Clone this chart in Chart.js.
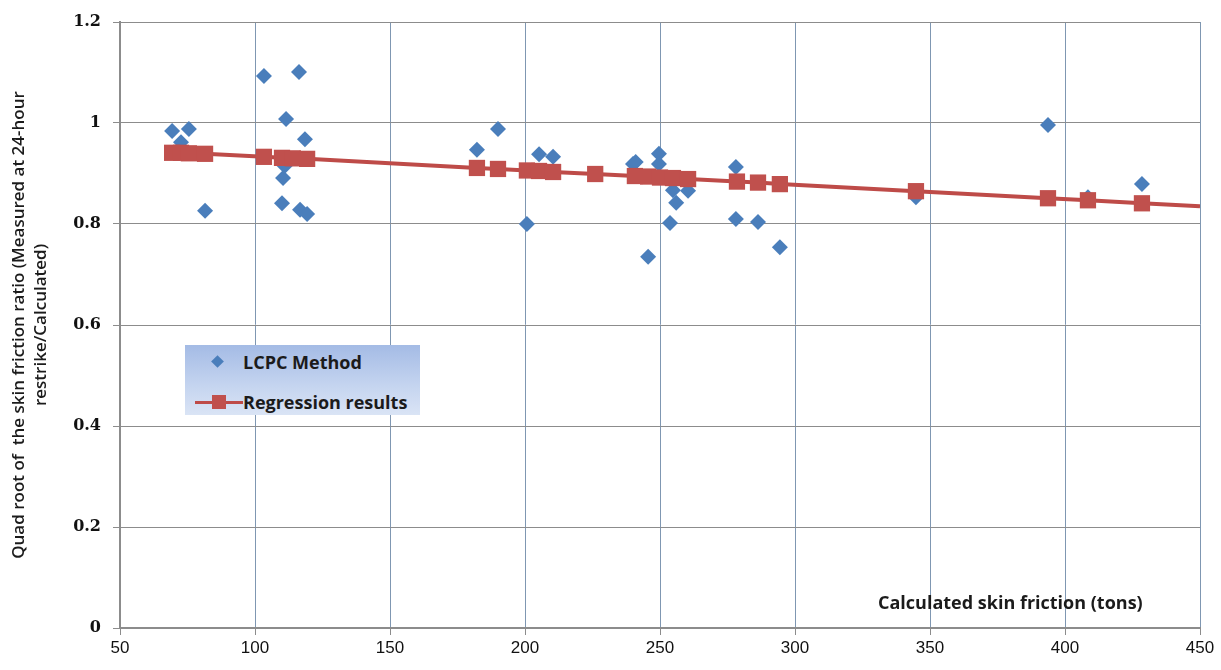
<!DOCTYPE html>
<html>
<head>
<meta charset="utf-8">
<script src="https://cdn.jsdelivr.net/npm/chart.js@4/dist/chart.umd.min.js"></script>
<style>
  html, body { margin: 0; padding: 0; background: #fff; }
  #wrap { position: relative; width: 1221px; height: 670px; }
  #legend {
    position: absolute; left: 185px; top: 345px; width: 235px; height: 70px;
    background: linear-gradient(to bottom, #a4bbe5 0%, #c3d3ef 55%, #dae4f5 100%);
    font-family: "Open Sans", sans-serif; font-weight: 700; font-size: 18px; color: #1b1b1b;
  }
  #legend .row { position: absolute; left: 0; height: 26px; line-height: 26px; }
  #legend .dia { position: absolute; left: 28px; top: 8px; width: 9px; height: 9px; background: #4a7ebb; transform: rotate(45deg); }
  #legend .ln { position: absolute; left: 10px; top: 12px; width: 48px; height: 3px; background: #be4b48; }
  #legend .sq { position: absolute; left: 27px; top: 6px; width: 14px; height: 14px; background: #c0504d; }
  #legend .txt { position: absolute; left: 58px; white-space: nowrap; }
  #xtitle {
    position: absolute; left: 878px; top: 590px;
    font-family: "Open Sans", sans-serif; font-weight: 700; font-size: 18px; color: #1b1b1b; white-space: nowrap;
  }
</style>
</head>
<body>
<div id="wrap">
  <canvas id="chart" width="1221" height="670"></canvas>
  <div id="legend">
    <div class="row" style="top:4px"><span class="dia"></span><span class="txt">LCPC Method</span></div>
    <div class="row" style="top:44px"><span class="ln"></span><span class="sq"></span><span class="txt">Regression results</span></div>
  </div>
  <div id="xtitle">Calculated skin friction (tons)</div>
</div>
<script>
// LCPC method points (calculated skin friction, quad root ratio)
const lcpcX = [69.3, 72.6, 75.5, 81.5, 103.3, 116.3, 111.5, 118.5, 110.4, 111, 110, 116.7, 119.3,
  182.2, 190, 200.7, 205.2, 210.4, 240, 241, 249.6, 249.6, 254.8, 260.4, 256, 253.7, 245.6,
  278.1, 278.1, 286.3, 294.4, 344.8, 393.7, 408.5, 428.5];
const lcpcY = [0.984, 0.962, 0.988, 0.826, 1.093, 1.101, 1.008, 0.968, 0.891, 0.915, 0.841, 0.828, 0.820,
  0.947, 0.988, 0.800, 0.938, 0.933, 0.919, 0.923, 0.939, 0.919, 0.867, 0.866, 0.842, 0.802, 0.735,
  0.913, 0.810, 0.804, 0.754, 0.853, 0.996, 0.853, 0.879];

// Regression results (last value is the end of the fitted line, no marker)
const regX = [69.3, 72.6, 75.5, 81.5, 103.3, 110, 114, 119.3, 182.2, 190, 200.7, 205.2, 210.4, 226,
  240.7, 245.6, 250, 254.8, 260.4, 278.5, 286.3, 294.4, 344.8, 393.7, 408.5, 428.5, 450];
const regY = [0.941, 0.941, 0.940, 0.939, 0.933, 0.931, 0.930, 0.929, 0.911, 0.909, 0.906, 0.905, 0.903, 0.899,
  0.895, 0.894, 0.892, 0.891, 0.889, 0.884, 0.882, 0.879, 0.865, 0.851, 0.847, 0.841, 0.835];

const xTicks = [50, 100, 150, 200, 250, 300, 350, 400, 450];
const yTicks = [0, 0.2, 0.4, 0.6, 0.8, 1, 1.2];

const yTitle = ['Quad root of  the skin friction ratio (Measured at 24-hour', 'restrike/Calculated)'];

new Chart(document.getElementById('chart'), {
    type: 'scatter',
    data: {
        datasets: [{
            label: 'LCPC Method',
            data: lcpcX.map((x, i) => ({ x: x, y: lcpcY[i] })),
            pointStyle: 'rectRot',
            pointRadius: 8,
            backgroundColor: '#4a7ebb',
            borderColor: '#4a7ebb',
            borderWidth: 0,
            order: 2
        }, {
            label: 'Regression results',
            type: 'line',
            data: regX.map((x, i) => ({ x: x, y: regY[i] })),
            borderColor: '#be4b48',
            borderWidth: 4,
            pointStyle: 'rect',
            pointRadius: ctx => ctx.dataIndex === regX.length - 1 ? 0 : 11.5,
            pointBackgroundColor: '#c0504d',
            pointBorderWidth: 0,
            fill: false,
            order: 1
        }]
    },
    options: {
        responsive: false,
        animation: false,
        layout: { padding: { top: 22, right: 21, left: 0, bottom: 0 } },
        plugins: {
            legend: { display: false },
            tooltip: { enabled: false }
        },
        scales: {
            x: {
                type: 'linear',
                min: 50,
                max: 450,
                afterBuildTicks: s => { s.ticks = xTicks.map(v => ({ value: v })); },
                afterFit: s => { s.height = 42; },
                grid: { color: '#7f97b2', lineWidth: 1, tickLength: 7, tickColor: '#8c8c8c' },
                border: { color: '#8c8c8c', width: 2 },
                ticks: {
                    color: '#111',
                    padding: 3,
                    font: { family: '"Liberation Sans Narrow", "Liberation Sans", sans-serif', size: 17 }
                }
            },
            y: {
                type: 'linear',
                min: 0,
                max: 1.2,
                afterBuildTicks: s => { s.ticks = yTicks.map(v => ({ value: v })); },
                afterFit: s => { s.width = 120; },
                grid: { color: '#8c8c8c', lineWidth: 1, tickLength: 7, tickColor: '#8c8c8c' },
                border: { color: '#8c8c8c', width: 2 },
                ticks: {
                    color: '#111',
                    padding: 12,
                    font: { family: '"DejaVu Serif", serif', size: 16, weight: 'bold' },
                    callback: v => String(v)
                },
                title: {
                    display: true,
                    text: yTitle,
                    color: '#1b1b1b',
                    padding: { top: 8, bottom: 0 },
                    font: { family: '"Open Sans", sans-serif', size: 17, weight: '600', lineHeight: 1.3 }
                }
            }
        }
    }
});
</script>
</body>
</html>
